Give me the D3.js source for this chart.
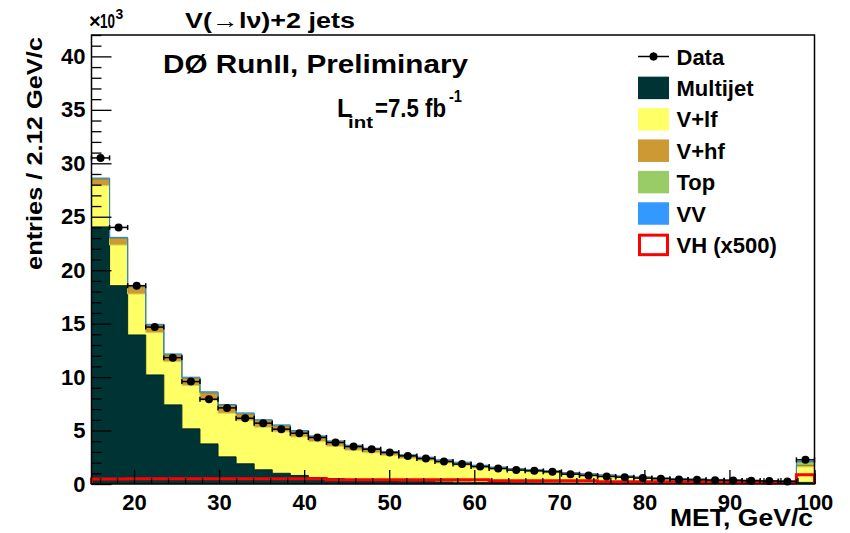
<!DOCTYPE html>
<html><head><meta charset="utf-8">
<script src="https://cdn.jsdelivr.net/npm/d3@7"></script>
<style>
body{margin:0;background:#fff}
svg{display:block}
text{font-family:"Liberation Sans",Arial,Helvetica,sans-serif;font-weight:bold;fill:#000}
</style>
</head><body>
<svg id="c" width="850" height="533"></svg>
<script>
// ---- data (thousands of entries per 2.125 GeV/c bin, 15..100 GeV/c, last bin = overflow) ----
const xMin = 15, xMax = 100, nBins = 40;
const dataCounts = [30.5,24.0,18.55,14.68,11.82,9.58,7.93,7.12,6.15,5.69,
  5.13,4.75,4.35,3.88,3.5,3.26,2.94,2.63,2.38,2.1,
  1.86,1.63,1.45,1.3,1.23,1.14,0.92,0.8,0.7,0.64,
  0.55,0.49,0.42,0.39,0.36,0.33,0.3,0.28,0.24,2.26];
const multijet = [24.05,18.55,13.94,10.2,7.4,5.16,3.75,2.54,1.89,1.33,
  1.0,0.8,0.6,0.5,0.42,0.36,0.3,0.26,0.22,0.19,
  0.17,0.15,0.14,0.12,0.11,0.1,0.09,0.08,0.07,0.07,
  0.06,0.06,0.05,0.05,0.04,0.04,0.04,0.03,0.03,0.15];
const vlf = [3.85,3.8,3.83,3.95,4.04,4.04,4.05,4.08,4.04,3.98,
  3.88,3.6,3.36,3.02,2.74,2.56,2.35,2.12,1.96,1.77,
  1.59,1.36,1.22,1.13,1.03,0.95,0.81,0.72,0.64,0.55,
  0.48,0.42,0.37,0.33,0.3,0.28,0.25,0.23,0.21,1.45];
const vhf = [0.62,0.62,0.68,0.68,0.62,0.68,0.72,0.72,0.62,0.6,
  0.55,0.5,0.45,0.42,0.38,0.35,0.32,0.28,0.26,0.23,
  0.21,0.19,0.17,0.15,0.14,0.13,0.12,0.11,0.1,0.09,
  0.08,0.07,0.065,0.06,0.055,0.05,0.045,0.04,0.035,0.15];
const topQuark = [0.04,0.04,0.04,0.05,0.05,0.05,0.05,0.05,0.05,0.05,
  0.05,0.05,0.05,0.05,0.05,0.04,0.04,0.04,0.04,0.04,
  0.04,0.03,0.03,0.03,0.03,0.03,0.03,0.02,0.02,0.02,
  0.02,0.02,0.02,0.02,0.02,0.02,0.015,0.015,0.015,0.3];
const diboson = [0.06,0.06,0.06,0.06,0.06,0.06,0.05,0.05,0.05,0.05,
  0.05,0.05,0.04,0.04,0.04,0.04,0.03,0.03,0.03,0.03,
  0.03,0.03,0.02,0.02,0.02,0.02,0.02,0.02,0.02,0.02,
  0.015,0.015,0.015,0.015,0.015,0.01,0.01,0.01,0.01,0.05];
const vhSignal = [0.46,0.46,0.5,0.5,0.5,0.5,0.5,0.5,0.5,0.5,
  0.5,0.5,0.5,0.4,0.4,0.4,0.4,0.4,0.4,0.4,
  0.4,0.4,0.3,0.3,0.3,0.3,0.3,0.3,0.22,0.22,
  0.22,0.22,0.22,0.22,0.22,0.15,0.15,0.15,0.15,0.86];
const yTickLabels = ["0","5","10","15","20","25","30","35","40"];
const xTickLabels = ["20","30","40","50","60","70","80","90","100"];
const legendLabels = ["Data","Multijet","V+lf","V+hf","Top","VV","VH (x500)"];
const layerKeys = ["multijet","vlf","vhf","top","vv"];
const layerColors = ["#003333","#ffff66","#cc9933","#99cc66","#3399ff"];
const layerLines  = ["#002222","#d8d850","#a07520","#78a850","#2a80dd"];

// ---- scales ----
const svg = d3.select("#c");
const L = 91.5, R = 814.5, T = 35, B = 484;
const x = d3.scaleLinear().domain([xMin, xMax]).range([L, R]);
const y = d3.scaleLinear().domain([0, 42]).range([B, T]);
const bw = (xMax - xMin) / nBins;
const lo = i => xMin + i * bw;

const layerArrays = [multijet, vlf, vhf, topQuark, diboson];
const rows = d3.range(nBins).map(i => {
  const r = {i};
  layerKeys.forEach((k, j) => r[k] = layerArrays[j][i]);
  return r;
});
const series = d3.stack().keys(layerKeys)(rows);

const area = d3.area().curve(d3.curveStepAfter)
  .x(p => x(p[0])).y0(p => y(p[1])).y1(p => y(p[2]));
const topLine = d3.line().curve(d3.curveStepAfter)
  .x(p => x(p[0])).y(p => y(p[2]));

series.forEach((s, j) => {
  const pts = s.map((d, i) => [lo(i), d[0], d[1]]);
  pts.push([xMax, s[nBins - 1][0], s[nBins - 1][1]]);
  svg.append("path").attr("d", area(pts)).attr("fill", layerColors[j]);
});
series.forEach((s, j) => {
  const pts = s.map((d, i) => [lo(i), d[0], d[1]]);
  pts.push([xMax, s[nBins - 1][0], s[nBins - 1][1]]);
  svg.append("path").attr("d", topLine(pts)).attr("fill", "none")
    .attr("stroke", layerLines[j]).attr("stroke-width", 1);
});

// VH (x500) outline
const vhPts = [[xMin, 0]].concat(vhSignal.map((v, i) => [lo(i), v]), [[xMax, vhSignal[nBins - 1]], [xMax, 0]]);
svg.append("path")
  .attr("d", d3.line().curve(d3.curveStepAfter).x(p => x(p[0])).y(p => y(p[1]))(vhPts))
  .attr("fill", "none").attr("stroke", "#ff0000").attr("stroke-width", 3);

// data points
const gD = svg.append("g").attr("stroke", "#000").attr("stroke-width", 1.5);
dataCounts.forEach((v, i) => {
  const cx = x(lo(i) + bw / 2), cy = y(v);
  const x0 = x(lo(i)), x1 = x(lo(i) + bw);
  const e = Math.sqrt(v * 1000) / 1000;
  gD.append("line").attr("x1", x0).attr("x2", x1).attr("y1", cy).attr("y2", cy);
  gD.append("line").attr("x1", x0).attr("x2", x0).attr("y1", cy - 2.5).attr("y2", cy + 2.5);
  gD.append("line").attr("x1", x1).attr("x2", x1).attr("y1", cy - 2.5).attr("y2", cy + 2.5);
  gD.append("line").attr("x1", cx).attr("x2", cx).attr("y1", y(v + e)).attr("y2", y(v - e));
  svg.append("circle").attr("cx", cx).attr("cy", cy).attr("r", 4).attr("fill", "#000");
});

// axes
const yMajor = yTickLabels.map(Number);
const yMinor = d3.range(0, 43, 1).filter(v => v % 5 !== 0);
svg.append("g").attr("transform", `translate(${L},0)`)
  .call(d3.axisLeft(y).tickValues(yMajor).tickFormat((d, i) => yTickLabels[i]).tickSize(-20).tickPadding(6));
svg.append("g").attr("transform", `translate(${L},0)`)
  .call(d3.axisLeft(y).tickValues(yMinor).tickFormat("").tickSize(-10));
const xMajor = xTickLabels.map(Number);
const xMinor = d3.range(16, 100, 2).filter(v => v % 10 !== 0);
svg.append("g").attr("transform", `translate(0,${B})`)
  .call(d3.axisBottom(x).tickValues(xMajor).tickFormat((d, i) => xTickLabels[i]).tickSize(-14).tickPadding(10));
svg.append("g").attr("transform", `translate(0,${B})`)
  .call(d3.axisBottom(x).tickValues(xMinor).tickFormat("").tickSize(-6));
svg.selectAll(".domain").remove();
svg.selectAll(".tick line").attr("stroke", "#000").attr("stroke-width", 1.3);
svg.selectAll(".tick text").attr("font-size", 22).attr("font-family", null).attr("fill", "#000");

// frame
svg.append("rect").attr("x", L).attr("y", T).attr("width", R - L).attr("height", B - T)
  .attr("fill", "none").attr("stroke", "#000").attr("stroke-width", 1.5);

// texts
function txt(s, px, py, fs, len, anchor) {
  const t = svg.append("text").attr("x", px).attr("y", py).attr("font-size", fs).text(s);
  if (len) t.attr("textLength", len).attr("lengthAdjust", "spacingAndGlyphs");
  if (anchor) t.attr("text-anchor", anchor);
  return t;
}
txt("\u00d7", 89, 28, 20).attr("font-weight", "normal");
txt("10", 100, 28, 21, 15);
txt("3", 115.5, 19, 14);
txt("V(\u2192l\u03bd)+2 jets", 185, 28, 22, 170);
txt("D\u00d8 RunII, Preliminary", 163, 73, 25, 305);
txt("L", 337, 116.5, 25);
txt("int", 348, 128, 17, 25);
txt("=7.5 fb", 375, 116.5, 25, 71);
txt("-1", 449, 102, 17, 13);
txt("MET, GeV/c", 813, 526, 23, 143, "end");
svg.append("text").attr("transform", "translate(41.7,37) rotate(-90)")
  .attr("text-anchor", "end").attr("font-size", 22)
  .attr("textLength", 233).attr("lengthAdjust", "spacingAndGlyphs")
  .text("entries / 2.12 GeV/c");

// legend
const lgX = 638, lgW = 31, lgH = 22.5, lgY0 = 56.5, lgDy = 31.4;
legendLabels.forEach((lab, i) => {
  const cy = lgY0 + i * lgDy;
  if (i === 0) {
    svg.append("line").attr("x1", lgX).attr("x2", lgX + lgW).attr("y1", cy).attr("y2", cy)
      .attr("stroke", "#000").attr("stroke-width", 1.5);
    svg.append("line").attr("x1", lgX + lgW / 2).attr("x2", lgX + lgW / 2).attr("y1", cy - 4).attr("y2", cy + 4)
      .attr("stroke", "#000").attr("stroke-width", 1.5);
    svg.append("circle").attr("cx", lgX + lgW / 2).attr("cy", cy).attr("r", 4).attr("fill", "#000");
  } else if (i < 6) {
    svg.append("rect").attr("x", lgX).attr("y", cy - lgH / 2).attr("width", lgW).attr("height", lgH)
      .attr("fill", layerColors[i - 1]);
  } else {
    svg.append("rect").attr("x", lgX + 1.5).attr("y", cy - lgH / 2 + 1.5).attr("width", lgW - 3).attr("height", lgH - 3)
      .attr("fill", "none").attr("stroke", "#ff0000").attr("stroke-width", 3);
  }
  txt(lab, 676.5, cy + 8, 22);
});
</script>
</body></html>
